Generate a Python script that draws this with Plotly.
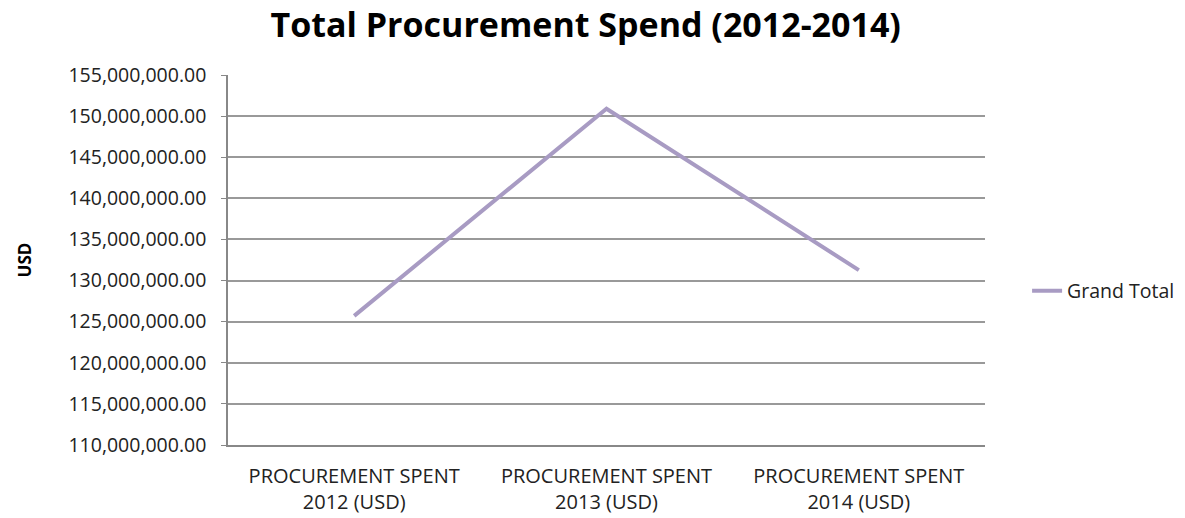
import plotly.graph_objects as go

categories = ["PROCUREMENT SPENT<br>2012 (USD)", "PROCUREMENT SPENT<br>2013 (USD)", "PROCUREMENT SPENT<br>2014 (USD)"]
grand_total = [125700000, 150900000, 131270000]
series_name = "Grand Total"
title_text = "Total Procurement Spend (2012-2014)"
y_title = "USD"

FONT = "'Open Sans', Calibri, sans-serif"

fig = go.Figure()
fig.add_trace(go.Scatter(
    x=categories, y=grand_total, mode="lines", name=series_name,
    line=dict(color="#A89BC3", width=4),
))

fig.update_layout(
    width=1185, height=518,
    margin=dict(l=220, r=208, t=67, b=81),
    paper_bgcolor="white", plot_bgcolor="white",
    font=dict(family=FONT, color="#222222", size=19),
    title=dict(text="<b>" + title_text + "</b>", x=0.4875, xanchor="center",
               yref="container", y=0.99, yanchor="top",
               pad=dict(t=0, b=0),
               font=dict(family=FONT, size=34, color="#000000")),
    showlegend=True,
    legend=dict(x=1.0556, xanchor="left", y=0.416, yanchor="middle",
                font=dict(family=FONT, size=19.5, color="#222222"),
                bgcolor="rgba(0,0,0,0)"),
)
fig.update_xaxes(
    type="category", showgrid=False, showline=True, linecolor="#888888", linewidth=1.5,
    tickfont=dict(family=FONT, size=20, color="#222222"), ticks="",
    ticklabelstandoff=12,
    range=[-0.5, 2.5],
)
fig.update_yaxes(
    range=[110000000, 155000000], dtick=5000000, tick0=110000000,
    tickformat=",.2f", showgrid=True, gridcolor="#999999", gridwidth=1.5,
    showline=True, linecolor="#888888", linewidth=1.5, mirror=False,
    ticks="outside", ticklen=5, tickcolor="#888888",
    ticklabelstandoff=11,
    tickfont=dict(family=FONT, size=19.5, color="#222222"),
    title=dict(text="<b>" + y_title + "</b>", font=dict(family=FONT, size=17, color="#000000"), standoff=33),
    zeroline=False,
)

fig.write_html("out.html")
